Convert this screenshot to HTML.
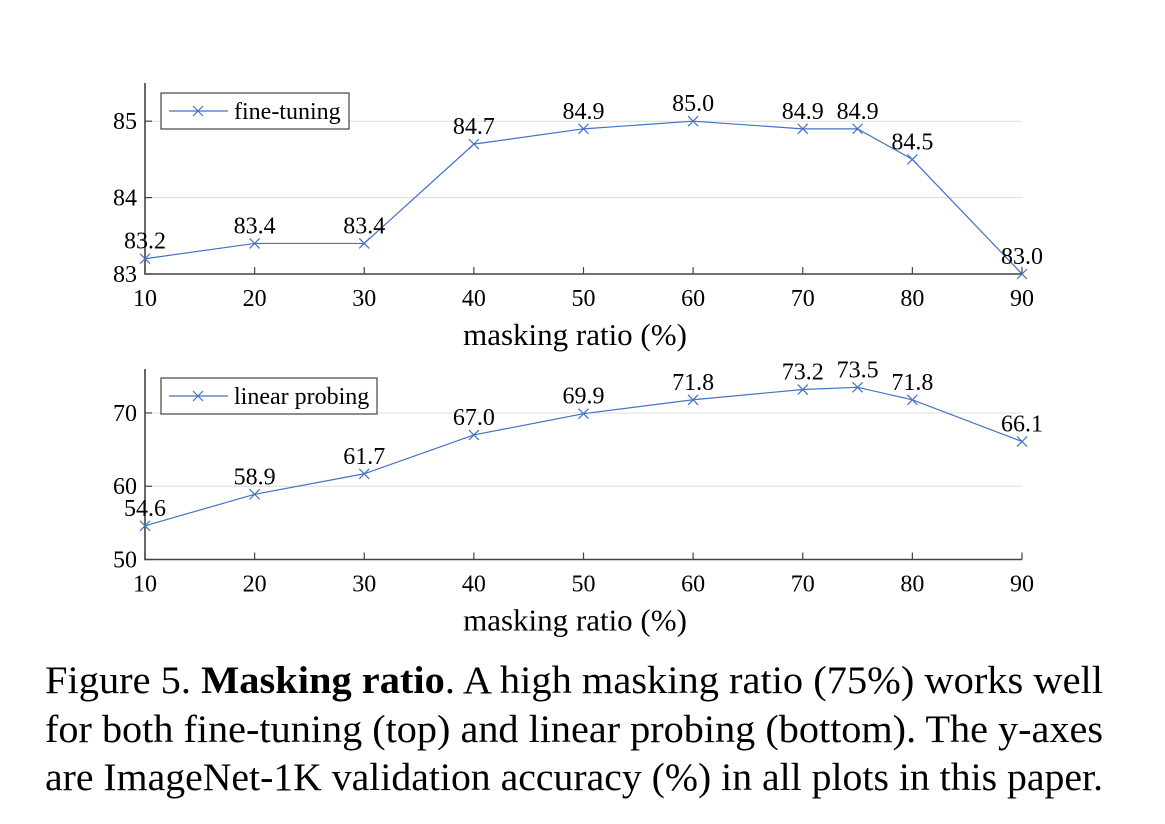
<!DOCTYPE html>
<html><head><meta charset="utf-8"><style>
body{margin:0;background:#fff;}
svg{display:block;font-family:"Liberation Serif",serif;}
</style></head><body>
<svg id="fig" width="1165" height="824" viewBox="0 0 1165 824">
<g id="top"></g>
<g id="bot"></g>
<g font-size="39" fill="#000">
<text x="45" y="693" textLength="1058" lengthAdjust="spacingAndGlyphs">Figure 5. <tspan font-weight="bold">Masking ratio</tspan>. A high masking ratio (75%) works well</text>
<text x="45" y="742" textLength="1058" lengthAdjust="spacingAndGlyphs">for both fine-tuning (top) and linear probing (bottom). The y-axes</text>
<text x="45" y="790" textLength="1058" lengthAdjust="spacingAndGlyphs">are ImageNet-1K validation accuracy (%) in all plots in this paper.</text>
</g>
</svg>
<script>
const xCats=[10,20,30,40,50,60,70,75,80,90];
const xTicks=[10,20,30,40,50,60,70,80,90];
const ftVals=[83.2,83.4,83.4,84.7,84.9,85.0,84.9,84.9,84.5,83.0];
const ftLabels=["83.2","83.4","83.4","84.7","84.9","85.0","84.9","84.9","84.5","83.0"];
const ftTicks=[83,84,85];
const lpVals=[54.6,58.9,61.7,67.0,69.9,71.8,73.2,73.5,71.8,66.1];
const lpLabels=["54.6","58.9","61.7","67.0","69.9","71.8","73.2","73.5","71.8","66.1"];
const lpTicks=[50,60,70];
const NS="http://www.w3.org/2000/svg";
function mk(p,tag,at,txt){const e=document.createElementNS(NS,tag);for(const k in at)e.setAttribute(k,at[k]);if(txt!==undefined)e.textContent=txt;p.appendChild(e);return e;}
function chart(g,o){
  const x=v=>145+(v-10)*(1022-145)/80;
  const y=v=>o.bot-(v-o.ymin)*(o.bot-o.top)/(o.ymax-o.ymin);
  o.ticks.forEach(t=>{
    const l=mk(g,'line',{x1:145,x2:1022,y1:y(t),y2:y(t),stroke:'#dcdcdc','stroke-width':1});
    
    
    const tk=mk(g,'line',{x1:145,x2:152,y1:y(t),y2:y(t),stroke:'#444','stroke-width':1.2});
    
    
    const tl=mk(g,'text',{x:137,y:y(t)+8,'text-anchor':'end','font-size':24},String(t));
    
    
  });
  xTicks.forEach(t=>{
    const tk=mk(g,'line',{x1:x(t),x2:x(t),y1:o.bot,y2:o.bot-7,stroke:'#444','stroke-width':1.2});
    
    
    const tl=mk(g,'text',{x:x(t),y:o.bot+32,'text-anchor':'middle','font-size':24},String(t));
    
    
  });
  const ax=mk(g,'path',{d:`M145 ${o.top} V${o.bot} H1022`,fill:'none',stroke:'#444','stroke-width':1.6});
  
  
  const at=mk(g,'text',{x:575,y:o.bot+71,'text-anchor':'middle','font-size':31},'masking ratio (%)');
  
  
  const pts=o.vals.map((v,i)=>x(xCats[i])+','+y(v)).join(' ');
  const ln=mk(g,'polyline',{points:pts,fill:'none',stroke:'#4472c4','stroke-width':1.2});
  
  
  o.vals.forEach((v,i)=>{
    const px=x(xCats[i]),py=y(v);
    const m=mk(g,'path',{d:`M${px-5} ${py-5}L${px+5} ${py+5}M${px-5} ${py+5}L${px+5} ${py-5}`,stroke:'#4472c4','stroke-width':1.2});
    
    
    const lb=mk(g,'text',{x:px,y:py-10,'text-anchor':'middle','font-size':24},o.labels[i]);
    
    
  });
  const lg=mk(g,'g',{});
  
  
  mk(lg,'rect',{x:161,y:o.lgY,width:o.lgW,height:36,fill:'#fff',stroke:'#444','stroke-width':1.2});
  const cy=o.lgY+18;
  mk(lg,'line',{x1:169,x2:228,y1:cy,y2:cy,stroke:'#4472c4','stroke-width':1.2});
  mk(lg,'path',{d:`M${198-5} ${cy-5}L${198+5} ${cy+5}M${198-5} ${cy+5}L${198+5} ${cy-5}`,stroke:'#4472c4','stroke-width':1.2});
  mk(lg,'text',{x:234,y:cy+8,'font-size':24},o.name);
}
chart(document.getElementById('top'),{top:83,bot:274,ymin:83,ymax:85.5,ticks:ftTicks,vals:ftVals,labels:ftLabels,lgY:93,lgW:188,name:'fine-tuning'});
chart(document.getElementById('bot'),{top:369,bot:559.5,ymin:50,ymax:76,ticks:lpTicks,vals:lpVals,labels:lpLabels,lgY:378,lgW:216,name:'linear probing'});
</script>
</body></html>
